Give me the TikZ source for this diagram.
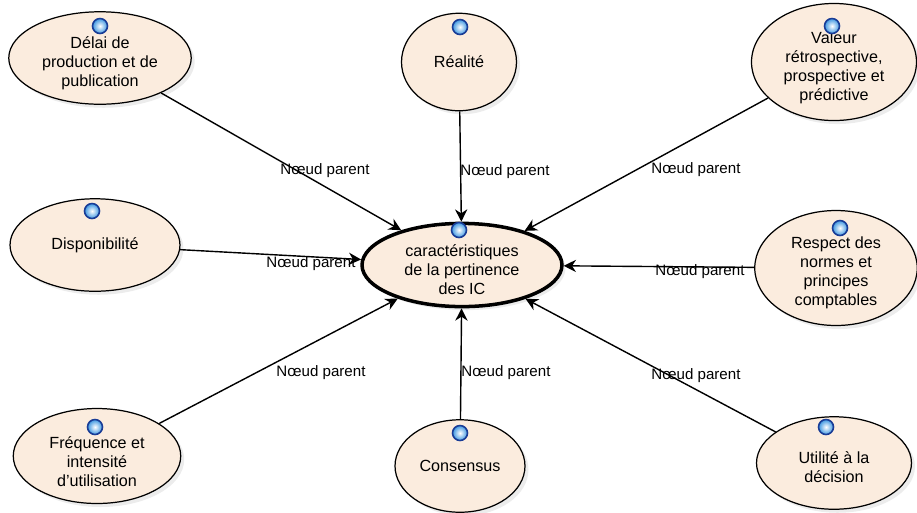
\documentclass[tikz,border=0pt]{standalone}
\usepackage{fontspec}
\setmainfont{Liberation Sans}
\usetikzlibrary{shapes.geometric,arrows.meta,shadows}
\definecolor{peach}{RGB}{251,236,222}
\definecolor{ballblue}{RGB}{60,150,225}
\definecolor{balledge}{RGB}{25,60,150}
\begin{document}
\begin{tikzpicture}[x=0.02cm,y=-0.02cm,
  txt/.style={font=\fontsize{9.2}{10.8}\selectfont},
  topic/.style={ellipse,draw=black,line width=0.7pt,fill=peach,align=center,txt,inner sep=0pt,
     drop shadow={shadow xshift=2pt,shadow yshift=-2pt,opacity=0.15}},
  hub/.style={topic,line width=2pt},
  ball/.style={circle,draw=balledge,line width=0.9pt,inner color=white,outer color=ballblue,minimum size=0.3cm,inner sep=0pt},
  link/.style={draw=black,line width=0.8pt,-{Stealth[length=7pt,width=7pt]}},
  lab/.style={font=\fontsize{8.6}{10}\selectfont,inner sep=1pt}]
\useasboundingbox (0,0) rectangle (917,512);
% topics
\node[topic,minimum width=3.65cm,minimum height=1.85cm] (delai) at (100,58) {\\[2pt]Délai de\\production et de\\publication};
\node[topic,minimum width=2.3cm,minimum height=1.95cm] (real) at (459,62) {Réalité};
\node[topic,minimum width=3.3cm,minimum height=1.95cm] (val) at (834,62) {\\[2pt]Valeur\\rétrospective,\\prospective et\\prédictive};
\node[topic,minimum width=3.4cm,minimum height=1.85cm] (dispo) at (95,245) {Disponibilité};
\node[hub,minimum width=4.0cm,minimum height=1.64cm] (hub) at (462,265) {\\[1pt]caractéristiques\\de la pertinence\\des IC};
\node[topic,minimum width=3.25cm,minimum height=2.3cm] (resp) at (836,268) {\\[1pt]Respect des\\normes et\\principes\\comptables};
\node[topic,minimum width=3.35cm,minimum height=1.9cm] (freq) at (97,456) {\\[2pt]Fréquence et\\intensité\\d'utilisation};
\node[topic,minimum width=2.6cm,minimum height=1.85cm] (cons) at (460,466) {Consensus};
\node[topic,minimum width=3.1cm,minimum height=1.85cm] (util) at (834,463) {\\[1pt]Utilité à la\\décision};
% balls
\node[ball] (b1) at (100,26) {};
\node[ball] (b2) at (460,27) {};
\node[ball] (b3) at (832,26) {};
\node[ball] (b4) at (92,211) {};
\node[ball] (b5) at (459,230) {};
\node[ball] (b6) at (840,228) {};
\node[ball] (b7) at (95,427) {};
\node[ball] (b8) at (460,433) {};
\node[ball] (b9) at (826,427) {};
% connectors
\draw[link] (delai) -- (hub);
\draw[link] (real) -- (hub);
\draw[link] (val) -- (hub);
\draw[link] (dispo) -- (hub);
\draw[link] (resp) -- (hub);
\draw[link] (freq) -- (hub);
\draw[link] (cons) -- (hub);
\draw[link] (util) -- (hub);
% labels
\node[lab] (l1) at (325,171) {Nœud parent};
\node[lab] (l2) at (505,172) {Nœud parent};
\node[lab] (l3) at (696,170) {Nœud parent};
\node[lab] (l4) at (311,264) {Nœud parent};
\node[lab] (l5) at (700,272) {Nœud parent};
\node[lab] (l6) at (321,373) {Nœud parent};
\node[lab] (l7) at (506,373) {Nœud parent};
\node[lab] (l8) at (696,376) {Nœud parent};
\end{tikzpicture}
\end{document}
